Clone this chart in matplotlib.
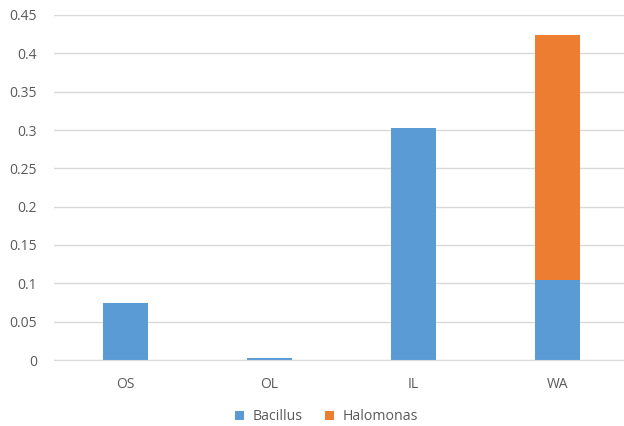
import matplotlib

matplotlib.use('Agg')

import matplotlib.pyplot as plt
import numpy as np


categories = ['OS', 'OL', 'IL', 'WA']
bacillus = [0.074, 0.003, 0.303, 0.104]
halomonas = [0.0, 0.0, 0.0, 0.320]
y_ticks = [0, 0.05, 0.1, 0.15, 0.2, 0.25, 0.3, 0.35, 0.4, 0.45]

BLUE = '#5B9BD5'
ORANGE = '#ED7D31'
TEXT = '#595959'
GRID = '#D9D9D9'


def main():
    plt.rcParams['font.family'] = ['Open Sans', 'DejaVu Sans']

    fig = plt.figure(figsize=(6.24, 4.26), dpi=100)
    ax = fig.add_axes([53.5 / 624, 66 / 426, 576 / 624, 345 / 426])

    x = np.arange(len(categories))
    width = 0.315
    ax.bar(x, bacillus, width, color=BLUE, label='Bacillus', zorder=3)
    ax.bar(x, halomonas, width, bottom=bacillus, color=ORANGE,
           label='Halomonas', zorder=3)

    ax.set_xlim(-0.5, len(categories) - 0.5)
    ax.set_ylim(0, 0.45)
    ax.set_yticks(y_ticks)
    ax.set_yticklabels([f'{t:g}' for t in y_ticks])
    ax.set_xticks(x)
    ax.set_xticklabels(categories)

    ax.grid(axis='y', color=GRID, linewidth=1, zorder=0)
    for side in ['top', 'right', 'left']:
        ax.spines[side].set_visible(False)
    ax.spines['bottom'].set_color(GRID)
    ax.spines['bottom'].set_zorder(4)
    ax.tick_params(length=0, colors=TEXT, labelsize=10)
    ax.tick_params(axis='x', pad=12)
    ax.tick_params(axis='y', pad=12)

    fig.legend(loc='center', bbox_to_anchor=(326.5 / 624, 1 - 417 / 426),
               ncol=2, frameon=False, fontsize=10.2, labelcolor=TEXT,
               handlelength=0.6, handleheight=0.6, columnspacing=1.6,
               handletextpad=0.6)

    fig.savefig('out.png', dpi=100)
    plt.close(fig)


if __name__ == '__main__':
    main()
